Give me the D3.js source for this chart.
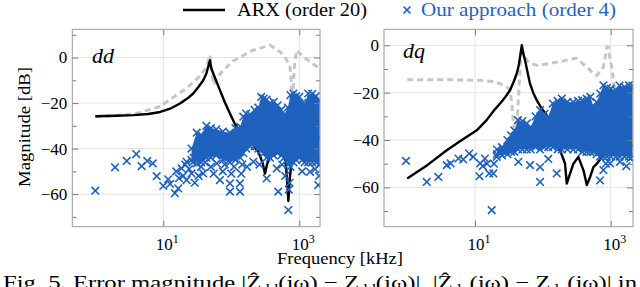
<!DOCTYPE html>
<html>
<head>
<meta charset="utf-8">
<script src="https://cdn.jsdelivr.net/npm/d3@7"></script>
<style>
body { margin: 0; background: #fff; }
svg { display: block; }
text { font-family: 'Liberation Serif', 'DejaVu Serif', serif; }
</style>
</head>
<body>
<script>
// tick values
var freqTicks = [10, 1000];
var freqTickExp = ["1", "3"];
var magMajor = [0, -20, -40, -60];
var magMinor = [10, -10, -30, -50, -70];

// dd panel: [kHz, dB]
var ddRef = [[1,-26],[2,-25.5],[4,-24.6],[9,-21.5],[14,-17.5],[22,-13.5],[35,-8],[44,-3.5],[48.6,1],[51,-5],[55,-12],[61,-9.2],[76,-5.6],[107,-1.5],[200,3],[370,5.4],[525,2.5],[650,-1],[730,-4.1],[760,-10],[775,-15],[810,-15],[850,-3],[912,3.2],[1150,0.3],[1500,-2.3],[2000,-4.8]];
var ddArx = [[1,-25.8],[2,-25.6],[3.6,-25.3],[6,-24.8],[9,-23.9],[13,-22.3],[17.6,-20.2],[23,-17.8],[27.5,-15.8],[33,-12.8],[38.7,-10],[43,-7],[45.7,-4.1],[48.6,-1.2],[50.5,-4.5],[54.3,-7],[61,-10.8],[68,-14.3],[80,-19.5],[95.5,-24.6],[112,-29],[134,-32.6],[170,-36],[210,-38.5],[250,-41.4],[290,-46.5],[313,-51],[335,-47],[400,-40],[500,-36],[580,-40],[640,-48],[690,-63],[730,-52],[800,-42],[1000,-37],[1400,-36],[2000,-35]];
var ddPts = [[1,-58.5],[1.95,-48.2],[2.9,-45.4],[4,-42.4],[4.8,-47.7],[5.8,-45.4],[7,-46.5],[8,-52.1],[10,-56.4],[11.8,-53.5],[12.6,-55.5],[14.8,-59.6],[16.6,-57.5],[15.5,-50],[17,-53],[18.6,-48.7],[19.6,-52],[21,-47],[22,-45.8],[22,-53.8],[24,-49],[26,-50.9],[27,-46],[28,-44],[29,-55],[31,-46.5],[33,-52],[34.7,-40.7],[36,-48],[38.7,-50.9],[41,-46],[43.4,-36.3],[50,-48],[55,-51],[61,-46.5],[68,-53.8],[75,-50],[80,-47],[95.5,-55.3],[95.5,-58.9],[100,-51],[110,-48],[134,-55.3],[134,-58.9],[140,-51],[145,-47],[170,-48],[211,-45.8],[260,-47],[331,-53.1],[465,-48.7],[490,-58.9],[560,-47],[620,-52],[689,-67],[700,-58],[720,-55],[1100,-50],[1435,-50.2],[1700,-49],[1900,-56],[1950,-52]];
// dense cloud of points: [kHz, upper dB, lower dB]
var ddBand = [[26,-40,-45],[31,-33,-45],[36,-34,-46],[43,-30,-44],[50,-31,-44],[60,-31.5,-43],[75,-32.5,-45],[95,-33,-46],[115,-31,-45],[135,-30.4,-44],[150,-26,-42],[165,-24.6,-40],[190,-25,-39],[220,-23,-39],[250,-22,-40],[275,-17.3,-41],[300,-18,-42],[330,-18.5,-44],[370,-20,-44],[420,-19.5,-43],[480,-21,-42],[540,-23,-43],[600,-25.3,-44],[680,-22,-47],[740,-16.5,-48],[820,-15.8,-46],[900,-17,-45],[1000,-17.3,-44],[1100,-20,-45],[1200,-20.2,-46],[1350,-15.8,-46],[1550,-16,-46],[1750,-17,-46],[2000,-18.7,-47]];

// dq panel
var dqRef = [[1,-14.5],[5,-14.6],[11.9,-14.8],[18,-15.3],[23.4,-16.2],[29,-17.5],[32.8,-19],[35,-25],[37,-33],[39,-40],[41,-36],[44,-20],[47,-6],[48.9,-0.7],[52,-4],[58,-6.3],[64.6,-7.7],[81,-8.4],[91,-8.4],[143,-7.4],[200,-6.6],[282,-5.6],[316,-5.6],[444,-9.2],[556,-12],[624,-12.7],[700,-11],[780,-9.2],[880,-0.7],[925,-0.7],[980,-6.3],[1037,-9.2],[1160,-20.4],[1300,-28],[2100,-32]];
var dqArx = [[1,-56.2],[2,-50.5],[3.83,-44.3],[6,-40.5],[10.6,-35.9],[14.8,-31.6],[19,-27.5],[23.4,-24.6],[28,-21.8],[32.8,-19],[37,-15.5],[41.2,-11.9],[44,-8.5],[46.1,-4.9],[48.9,0],[51,-3],[54.6,-6.3],[59,-11],[64.6,-16.2],[72,-20],[81.2,-23.2],[95,-26.5],[114,-29.5],[140,-36],[179,-44.3],[212,-49.9],[225,-58.4],[252,-54.1],[282,-50],[333,-47.1],[396,-52.7],[444,-59],[497,-55.6],[556,-51.4],[624,-50],[800,-46],[1100,-44.5],[1500,-46],[2100,-42]];
var dqPts = [[0.96,-48.8],[1.94,-57.7],[2.88,-55.6],[3.83,-50.6],[4.37,-49.9],[5.7,-47.8],[6.7,-48.2],[8.2,-45.7],[9.4,-47.1],[11.6,-55.3],[11.9,-49.9],[13,-51],[14,-47.8],[15,-50],[16.2,-54.1],[17.6,-69.6],[18.6,-54.1],[19,-50],[20.9,-47.1],[23,-45],[26,-44],[43.5,-49.2],[64.6,-50.6],[91,-51.4],[91,-57.7],[120,-48],[160,-54.1],[696,-57],[780,-52.7],[850,-50],[980,-49.9],[1370,-49.2],[1700,-51],[1940,-47.8]];
var dqBand = [[21,-44,-46],[25,-43,-46.5],[30,-40,-46],[34,-38,-45],[38,-36,-45],[43,-31.6,-44],[50,-32,-44],[58,-33,-44],[66,-34.5,-44],[78,-30,-43],[91,-27.4,-44],[105,-29,-43],[120,-30.3,-43],[140,-24.6,-43],[165,-23.5,-44],[190,-22.5,-44],[230,-23.9,-44],[280,-24,-44],[330,-23.5,-44],[380,-23.2,-45],[440,-22.5,-45],[500,-21.8,-45],[560,-26,-45],[620,-24,-46],[700,-20.4,-47],[780,-16.9,-47],[880,-18,-47],[1000,-18.3,-47],[1200,-19,-47],[1350,-17,-47],[1600,-17.6,-47],[1850,-16.9,-47],[2100,-17,-47]];

var width = 640;
var height = 287;
var blue = "#1f62be";
var serif = "'Liberation Serif', 'DejaVu Serif', serif";

var translate = (x, y) => "translate(" + x + "," + y + ")";
var cross = s => "M" + (-s) + "," + (-s) + "L" + s + "," + s + "M" + (-s) + "," + s + "L" + s + "," + (-s);

var svg = d3.select("body").append("svg")
	.attr("width", width)
	.attr("height", height)
	.attr("font-family", serif)

var panels = [
	{name: "dd", label: "dd", ref: ddRef, arx: ddArx, pts: ddPts, band: ddBand,
		left: 72.3, right: 320, top: 29.3, bottom: 226.7,
		xDomain: [0.459, 2015], yDomain: [-74.3, 12.4], labelX: 92, labelY: 63},
	{name: "dq", label: "dq", ref: dqRef, arx: dqArx, pts: dqPts, band: dqBand,
		left: 384, right: 633, top: 29.3, bottom: 226.7,
		xDomain: [0.455, 2130], yDomain: [-76.6, 6.75], labelX: 403, labelY: 58}
];

var styleAxis = sel => {
	sel.attr("font-family", serif).attr("font-size", 17);
	sel.select(".domain").remove();
	sel.selectAll("line").attr("stroke", "#7a7a7a");
	sel.selectAll("text").attr("fill", "black");
}

var drawPanel = p => {
	var x = d3.scaleLog().domain(p.xDomain).range([p.left, p.right]);
	var y = d3.scaleLinear().domain(p.yDomain).range([p.bottom, p.top]);
	var inY = v => v >= p.yDomain[0] && v <= p.yDomain[1];

	var g = svg.append("g").attr("class", "panel-" + p.name);

	svg.append("clipPath")
		.attr("id", "clip-" + p.name)
		.append("rect")
		.attr("x", p.left)
		.attr("y", p.top)
		.attr("width", p.right - p.left)
		.attr("height", p.bottom - p.top)

	// grid
	g.selectAll(".gx").data(freqTicks).join("line")
		.attr("x1", d => x(d)).attr("x2", d => x(d))
		.attr("y1", p.top).attr("y2", p.bottom)
		.attr("stroke", "#e3e3e3").attr("stroke-width", 1)
	g.selectAll(".gy").data(magMajor.filter(inY)).join("line")
		.attr("x1", p.left).attr("x2", p.right)
		.attr("y1", d => y(d)).attr("y2", d => y(d))
		.attr("stroke", "#e3e3e3").attr("stroke-width", 1)

	var plot = g.append("g").attr("clip-path", "url(#clip-" + p.name + ")");
	var line = d3.line().x(d => x(d[0])).y(d => y(d[1]));

	plot.append("path")
		.datum(p.ref)
		.attr("d", line)
		.attr("fill", "none")
		.attr("stroke", "#c6c6c6")
		.attr("stroke-width", 3)
		.attr("stroke-dasharray", "6,4")

	plot.append("path")
		.datum(p.arx)
		.attr("d", line)
		.attr("fill", "none")
		.attr("stroke", "black")
		.attr("stroke-width", 2.4)
		.attr("stroke-linejoin", "round")

	plot.append("path")
		.datum(p.band)
		.attr("d", d3.area().x(d => x(d[0])).y0(d => y(d[2])).y1(d => y(d[1])))
		.attr("fill", blue)

	var marks = p.pts
		.concat(p.band.map(d => [d[0], d[1]]))
		.concat(p.band.map(d => [d[0], d[2]]));

	plot.selectAll(".mark").data(marks).join("path")
		.attr("class", "mark")
		.attr("transform", d => translate(x(d[0]), y(d[1])))
		.attr("d", cross(3.8))
		.attr("fill", "none")
		.attr("stroke", blue)
		.attr("stroke-width", 1.6)

	// axes
	g.append("g")
		.attr("transform", translate(p.left, 0))
		.call(d3.axisLeft(y).tickValues(magMajor.filter(inY)).tickSize(-6).tickPadding(5))
		.call(styleAxis)
	g.append("g")
		.attr("transform", translate(p.left, 0))
		.call(d3.axisLeft(y).tickValues(magMinor.filter(inY)).tickSize(-4).tickFormat(""))
		.call(styleAxis)
	g.append("g")
		.attr("transform", translate(p.right, 0))
		.call(d3.axisRight(y).tickValues(magMajor.filter(inY)).tickSize(-6).tickFormat(""))
		.call(styleAxis)
	g.append("g")
		.attr("transform", translate(p.right, 0))
		.call(d3.axisRight(y).tickValues(magMinor.filter(inY)).tickSize(-4).tickFormat(""))
		.call(styleAxis)
	g.append("g")
		.attr("transform", translate(0, p.bottom))
		.call(d3.axisBottom(x).tickValues(freqTicks).tickSize(-6).tickFormat(""))
		.call(styleAxis)
	g.append("g")
		.attr("transform", translate(0, p.top))
		.call(d3.axisTop(x).tickValues(freqTicks).tickSize(-6).tickFormat(""))
		.call(styleAxis)

	var xl = g.selectAll(".xl").data(freqTicks).join("text")
		.attr("x", d => x(d) + 4)
		.attr("y", 250)
		.attr("text-anchor", "middle")
		.attr("font-size", 17)
	xl.append("tspan").text("10")
	xl.append("tspan")
		.attr("dy", -7)
		.attr("font-size", 12)
		.text((d, i) => freqTickExp[i])

	g.append("rect")
		.attr("x", p.left)
		.attr("y", p.top)
		.attr("width", p.right - p.left)
		.attr("height", p.bottom - p.top)
		.attr("fill", "none")
		.attr("stroke", "#9a9a9a")
		.attr("stroke-width", 1)

	g.append("text")
		.attr("x", p.labelX)
		.attr("y", p.labelY)
		.attr("font-size", 22)
		.attr("font-style", "italic")
		.text(p.label)
}

panels.forEach(drawPanel);

// legend
var legend = svg.append("g").attr("class", "legend");
legend.append("line")
	.attr("x1", 183).attr("x2", 225)
	.attr("y1", 10).attr("y2", 10)
	.attr("stroke", "black")
	.attr("stroke-width", 2.4)
legend.append("text")
	.attr("x", 237).attr("y", 16)
	.attr("font-size", 18)
	.attr("textLength", 130)
	.attr("lengthAdjust", "spacingAndGlyphs")
	.text("ARX (order 20)")
legend.append("path")
	.attr("transform", translate(407, 10))
	.attr("d", cross(3.5))
	.attr("stroke", blue)
	.attr("stroke-width", 1.6)
legend.append("text")
	.attr("x", 421).attr("y", 16)
	.attr("fill", blue)
	.attr("font-size", 18)
	.attr("textLength", 195)
	.attr("lengthAdjust", "spacingAndGlyphs")
	.text("Our approach (order 4)")

svg.append("text")
	.attr("transform", translate(30, 127) + " rotate(-90)")
	.attr("text-anchor", "middle")
	.attr("font-size", 17)
	.attr("textLength", 120)
	.attr("lengthAdjust", "spacingAndGlyphs")
	.text("Magnitude [dB]")

svg.append("text")
	.attr("x", 340).attr("y", 264)
	.attr("text-anchor", "middle")
	.attr("font-size", 17)
	.attr("textLength", 126)
	.attr("lengthAdjust", "spacingAndGlyphs")
	.text("Frequency [kHz]")

var caption = svg.append("text")
	.attr("x", 3).attr("y", 289)
	.attr("font-size", 19)
	.attr("textLength", 634)
	.attr("lengthAdjust", "spacingAndGlyphs")
caption.append("tspan").text("Fig. 5.   Error magnitude |Ẑ")
caption.append("tspan").attr("dy", 4).attr("font-size", 13).text("dd")
caption.append("tspan").attr("dy", -4).text("(jω) − Z")
caption.append("tspan").attr("dy", 4).attr("font-size", 13).text("dd")
caption.append("tspan").attr("dy", -4).text("(jω)|, |Ẑ")
caption.append("tspan").attr("dy", 4).attr("font-size", 13).text("dq")
caption.append("tspan").attr("dy", -4).text("(jω) − Z")
caption.append("tspan").attr("dy", 4).attr("font-size", 13).text("dq")
caption.append("tspan").attr("dy", -4).text("(jω)| in")
</script>
</body>
</html>
